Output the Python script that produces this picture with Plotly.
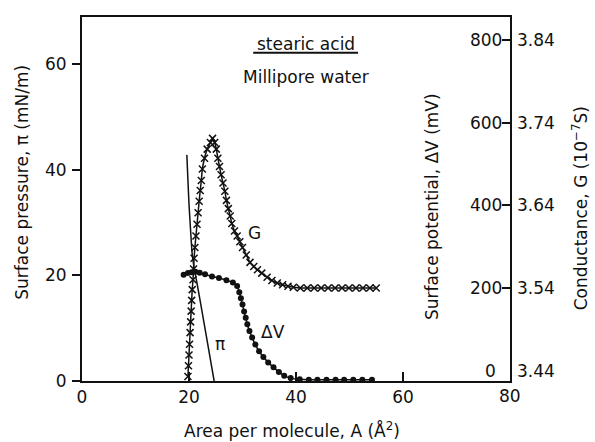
import plotly.graph_objects as go

# Surface pressure isotherm, pi (mN/m) vs area per molecule (A^2)
pi_area = [19.6, 19.8, 20.0, 20.3, 20.6, 21.0, 21.5, 22.5, 23.5, 24.7]
pi_vals = [42.8, 38.0, 33.5, 28.5, 24.0, 21.2, 18.5, 12.8, 7.0, 0.0]

# Surface potential, dV (mV)
dv_area = [19.0, 19.8, 20.5, 21.2, 22.0, 23.0, 24.3, 25.6, 27.0, 28.2, 29.0,
           29.4, 29.7, 30.0, 30.3, 30.6, 30.9, 31.3, 31.8, 32.4, 33.1, 33.9,
           34.8, 35.8, 36.8, 37.8, 39.0, 40.7, 42.4, 44.0, 45.7, 47.4, 49.0,
           50.7, 52.4, 54.2]
dv_vals = [232, 236, 238, 239, 237, 233, 228, 224, 219, 213, 205,
           190, 175, 160, 143, 128, 112, 96, 80, 63, 47, 33,
           20, 8, -3, -12, -18, -21, -22, -22, -22, -22, -22,
           -22, -22, -22]

# Conductance, G (1e-7 S)
g_area = [19.8, 19.9, 20.0, 20.1, 20.2, 20.3, 20.4, 20.5, 20.6, 20.75, 20.85,
          20.95, 21.1, 21.3, 21.5, 21.7, 21.9, 22.1, 22.3, 22.5, 22.9, 23.4,
          24.0, 24.4, 24.8, 25.1, 25.4, 25.7, 26.0, 26.35, 26.7, 27.0, 27.35,
          27.7, 28.0, 28.5, 29.0, 29.5, 30.0, 30.7, 31.4, 32.1, 32.8, 33.6,
          34.6, 35.5, 36.5, 37.5, 38.5, 39.5, 40.8, 42.1, 43.4, 44.7, 46.0,
          47.3, 48.6, 49.9, 51.2, 52.5, 53.8, 55.0]
g_vals = [3.433, 3.446, 3.459, 3.472, 3.486, 3.499, 3.512, 3.525, 3.538, 3.550,
          3.563, 3.576, 3.589, 3.603, 3.617, 3.631, 3.645, 3.658, 3.670, 3.684,
          3.697, 3.708, 3.716, 3.721, 3.716, 3.708, 3.697, 3.687, 3.677, 3.667,
          3.657, 3.646, 3.636, 3.627, 3.618, 3.609, 3.603, 3.596, 3.589, 3.580,
          3.571, 3.566, 3.562, 3.558, 3.553, 3.549, 3.546, 3.544, 3.542, 3.541,
          3.540, 3.540, 3.540, 3.540, 3.540, 3.540, 3.540, 3.540, 3.540, 3.540,
          3.540, 3.540]

x_ticks = [0, 20, 40, 60, 80]
pi_ticks = [0, 20, 40, 60]
dv_ticks = [200, 400, 600, 800]
g_ticks = [3.44, 3.54, 3.64, 3.74, 3.84]

PI_RANGE = [0, 68.9]
DV_RANGE = [-25, 855.6]
G_RANGE = [3.44 + DV_RANGE[0] / 2000, 3.44 + DV_RANGE[1] / 2000]

FONT = "DejaVu Sans"
INK = "#111111"

fig = go.Figure()

fig.add_trace(go.Scatter(
    x=pi_area, y=pi_vals, mode="lines", yaxis="y",
    line=dict(color=INK, width=1.5, shape="spline", smoothing=0.6),
    showlegend=False, hoverinfo="skip"))

fig.add_trace(go.Scatter(
    x=dv_area, y=dv_vals, mode="lines+markers", yaxis="y2",
    line=dict(color=INK, width=1.5, shape="spline", smoothing=0.6),
    marker=dict(symbol="circle", size=6, color=INK),
    showlegend=False, hoverinfo="skip"))

fig.add_trace(go.Scatter(
    x=g_area, y=g_vals, mode="lines+markers", yaxis="y3",
    line=dict(color=INK, width=1.5, shape="spline", smoothing=0.6),
    marker=dict(symbol="x-thin", size=7, line=dict(color=INK, width=1.5)),
    showlegend=False, hoverinfo="skip"))

axis_font = dict(family=FONT, size=17, color=INK)

fig.update_layout(
    width=595, height=442,
    margin=dict(l=82, r=85, t=17, b=61),
    paper_bgcolor="white", plot_bgcolor="white",
    font=axis_font,
    xaxis=dict(
        range=[0, 80], tickvals=x_ticks, ticks="inside", ticklen=9,
        tickwidth=1.5, tickcolor=INK, showline=True, linecolor=INK,
        linewidth=2, mirror=True, showgrid=False, zeroline=False,
        tickfont=axis_font),
    yaxis=dict(
        range=PI_RANGE, tickvals=pi_ticks, ticks="outside", ticklen=8,
        tickwidth=1.5, tickcolor=INK, showline=True, linecolor=INK,
        linewidth=2, showgrid=False, zeroline=False, tickfont=axis_font,
        ticklabelstandoff=2),
    yaxis2=dict(
        range=DV_RANGE, tickvals=dv_ticks, overlaying="y", side="right",
        anchor="x", ticks="inside", ticklabelposition="inside", ticklen=8,
        tickwidth=1.5, tickcolor=INK, showline=True, linecolor=INK,
        linewidth=2, showgrid=False, zeroline=False, tickfont=axis_font),
    yaxis3=dict(
        range=G_RANGE, tickvals=g_ticks, tickformat=".2f",
        overlaying="y", side="right", anchor="free", position=1,
        ticks="", showline=False, showgrid=False, zeroline=False,
        tickfont=axis_font, ticklabelstandoff=6),
)

ann = [
    # axis titles
    dict(text="Area per molecule, A (Å<sup>2</sup>)", x=0.491, y=-0.135,
         textangle=0),
    dict(text="Surface pressure, π (mN/m)", x=-0.140, y=0.545, textangle=-90),
    dict(text="Surface potential, ΔV (mV)", x=0.818, y=0.478, textangle=-90),
    dict(text="Conductance, G (10<sup>−7</sup>S)", x=1.164, y=0.475,
         textangle=-90),
    # header
    dict(text="stearic acid", x=0.523, y=0.926, textangle=0),
    dict(text="Millipore water", x=0.523, y=0.835, textangle=0),
]
for a in ann:
    fig.add_annotation(xref="paper", yref="paper", showarrow=False,
                       xanchor="center", yanchor="middle",
                       font=axis_font, **a)

# zero label of the potential scale (no tick drawn there)
fig.add_annotation(xref="paper", yref="y2", x=1, y=0, text="0",
                   xanchor="right", yanchor="middle", xshift=-12,
                   showarrow=False, font=axis_font)

# last label of the area scale, hidden by plotly next to inside y labels
fig.add_annotation(xref="x", yref="paper", x=x_ticks[-1], y=0,
                   text=str(x_ticks[-1]), xanchor="center", yanchor="top",
                   yshift=-3, showarrow=False, font=axis_font)

# curve labels
fig.add_annotation(xref="x", yref="y", x=32.3, y=28.0, text="G",
                   showarrow=False, font=axis_font)
fig.add_annotation(xref="x", yref="y", x=35.7, y=9.3, text="ΔV",
                   showarrow=False, font=axis_font)
fig.add_annotation(xref="x", yref="y", x=25.8, y=7.0, text="π",
                   showarrow=False, font=axis_font)

# underline of the header
fig.add_shape(type="line", xref="paper", yref="paper",
              x0=0.400, x1=0.645, y0=0.902, y1=0.902,
              line=dict(color=INK, width=2))

fig.write_html("out.html")
